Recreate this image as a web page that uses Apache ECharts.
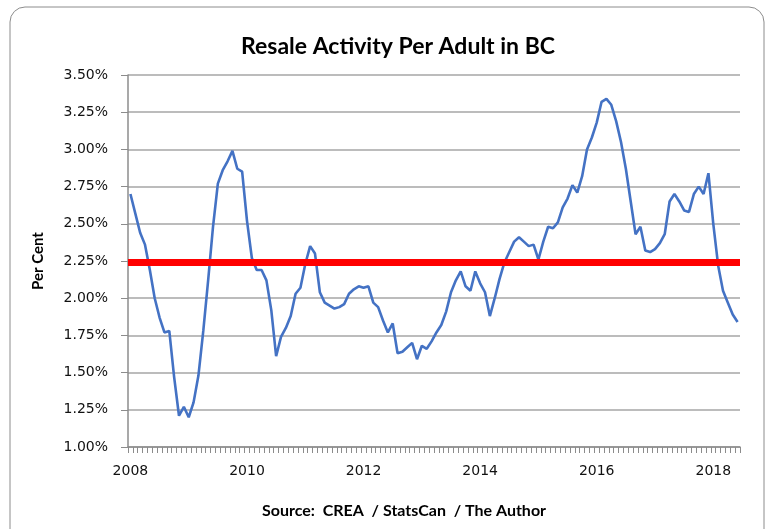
<!DOCTYPE html>
<html>
<head>
<meta charset="utf-8">
<script src="https://cdn.jsdelivr.net/npm/echarts@6/dist/echarts.min.js"></script>
<style>
  html, body { margin: 0; padding: 0; background: #fff; }
  #chart { width: 771px; height: 529px; }
</style>
</head>
<body>
<div id="chart"></div>
<script>
// monthly, Jan 2008 .. Jun 2018
const startYear = 2008;
const activity = [
  2.70, 2.57, 2.44, 2.36, 2.19, 2.00, 1.87, 1.77, 1.78, 1.47, 1.21, 1.27,
  1.20, 1.30, 1.48, 1.78, 2.12, 2.48, 2.77, 2.86, 2.92, 2.99, 2.87, 2.85,
  2.52, 2.27, 2.19, 2.19, 2.12, 1.92, 1.61, 1.74, 1.80, 1.88, 2.03, 2.07,
  2.23, 2.35, 2.30, 2.04, 1.97, 1.95, 1.93, 1.94, 1.96, 2.03, 2.06, 2.08,
  2.07, 2.08, 1.97, 1.94, 1.85, 1.77, 1.83, 1.63, 1.64, 1.67, 1.70, 1.59,
  1.68, 1.66, 1.71, 1.77, 1.82, 1.91, 2.04, 2.12, 2.18, 2.08, 2.05, 2.18,
  2.10, 2.04, 1.88, 2.00, 2.13, 2.24, 2.31, 2.38, 2.41, 2.38, 2.35, 2.36,
  2.26, 2.38, 2.48, 2.47, 2.51, 2.61, 2.67, 2.76, 2.71, 2.82, 3.00, 3.08,
  3.18, 3.32, 3.34, 3.30, 3.19, 3.05, 2.87, 2.65, 2.43, 2.48, 2.32, 2.31,
  2.33, 2.37, 2.43, 2.65, 2.70, 2.65, 2.59, 2.58, 2.70, 2.75, 2.70, 2.84,
  2.50, 2.22, 2.05, 1.97, 1.89, 1.84
];
const averageLevel = 2.24;
const yTicks = { min: 1.0, max: 3.5, step: 0.25 };

const months = activity.map(function (v, i) {
  const y = startYear + Math.floor(i / 12);
  const m = (i % 12) + 1;
  return y + "-" + (m < 10 ? "0" + m : m);
});

const chart = echarts.init(document.getElementById("chart"));
const option = {
  backgroundColor: "#fff",
  animation: false,
  title: [
    {
      text: "Resale Activity Per Adult in BC",
      left: 393,
      top: 30,
      textAlign: "center",
      textStyle: { fontFamily: "Lato", fontWeight: "bold", fontSize: 23, color: "#000" }
    },
    {
      text: "Source:  CREA  / StatsCan  / The Author",
      left: 399,
      top: 498,
      textAlign: "center",
      textStyle: { fontFamily: "Lato", fontWeight: "bold", fontSize: 16, color: "#000" }
    }
  ],
  graphic: [
    {
      type: "rect",
      shape: { x: 10, y: 7, width: 754, height: 540, r: 15 },
      style: { fill: "none", stroke: "#8c8c8c", lineWidth: 1 },
      silent: true
    }
  ],
  grid: { left: 128, right: 31, top: 75, bottom: 82 },
  xAxis: {
    type: "category",
    data: months,
    boundaryGap: true,
    axisLine: { lineStyle: { color: "#8c8c8c", width: 1.5 } },
    axisTick: { show: true, interval: 0, length: 6, lineStyle: { color: "#8c8c8c" } },
    axisLabel: {
      interval: function (index) { return index % 24 === 0; },
      formatter: function (value) { return value.slice(0, 4); },
      fontFamily: "DejaVu Sans",
      fontSize: 14,
      color: "#111",
      margin: 17
    },
    splitLine: { show: false }
  },
  yAxis: {
    type: "value",
    min: yTicks.min,
    max: yTicks.max,
    interval: yTicks.step,
    name: "Per Cent",
    nameLocation: "middle",
    nameGap: 82,
    nameTextStyle: { fontFamily: "Lato", fontWeight: "bold", fontSize: 15, color: "#000" },
    axisLine: { show: true, lineStyle: { color: "#8c8c8c", width: 1.5 } },
    axisTick: { show: true, length: 7, lineStyle: { color: "#8c8c8c" } },
    axisLabel: {
      formatter: function (v) { return v.toFixed(2) + "%"; },
      fontFamily: "DejaVu Sans",
      fontSize: 14,
      color: "#111",
      margin: 20
    },
    splitLine: { show: true, lineStyle: { color: "#a6a6a6", width: 1.5 } }
  },
  series: [
    {
      name: "Resale activity",
      type: "line",
      data: activity,
      showSymbol: false,
      symbol: "none",
      lineStyle: { color: "#4472C4", width: 2.6 },
      z: 3,
      markLine: {
        silent: true,
        symbol: "none",
        label: { show: false },
        lineStyle: { color: "#ff0000", width: 7, type: "solid", cap: "butt" },
        data: [{ yAxis: averageLevel }],
        z: 4
      }
    }
  ]
};
chart.setOption(option);
</script>
</body>
</html>
